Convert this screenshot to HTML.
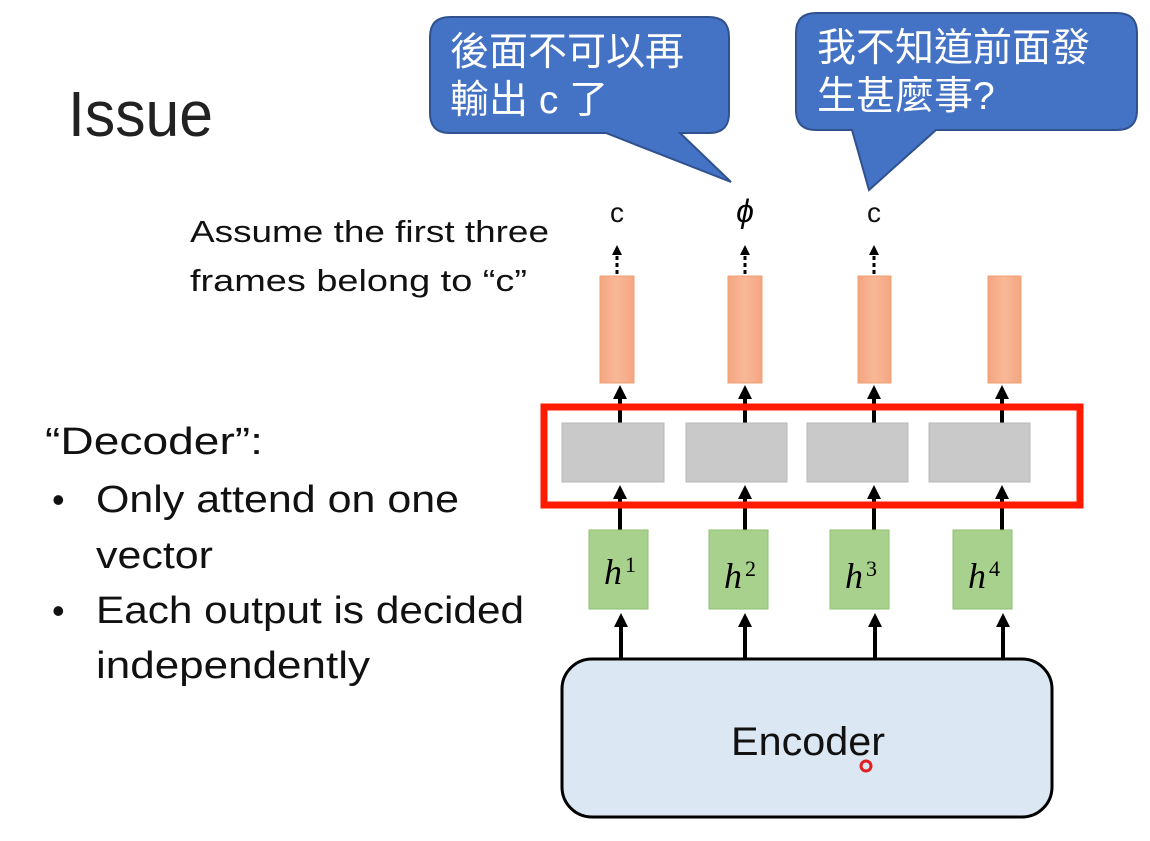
<!DOCTYPE html>
<html><head><meta charset="utf-8"><style>
body{margin:0;background:#fff;}
text{font-family:"Liberation Sans","Noto Sans CJK TC",sans-serif;}
</style></head><body>
<svg width="1150" height="836" xmlns="http://www.w3.org/2000/svg">
<defs>
<marker id="a" markerWidth="14" markerHeight="14" refX="7" refY="7" orient="auto" markerUnits="userSpaceOnUse"><path d="M0,0 L14,7 L0,14 z" fill="#000"/></marker>
<marker id="b" markerWidth="10" markerHeight="10" refX="5" refY="5" orient="auto" markerUnits="userSpaceOnUse"><path d="M0,0 L10,5 L0,10 z" fill="#000"/></marker>
<linearGradient id="og" x1="0" x2="1"><stop offset="0" stop-color="#f4a580"/><stop offset="0.5" stop-color="#f8b898"/><stop offset="1" stop-color="#f4a580"/></linearGradient>
</defs>
<text x="68" y="136" font-size="64" fill="#222" textLength="145" lengthAdjust="spacingAndGlyphs">Issue</text>
<text x="190" y="242" font-size="31" fill="#111" textLength="359" lengthAdjust="spacingAndGlyphs">Assume the first three</text>
<text x="190" y="291" font-size="31" fill="#111" textLength="337" lengthAdjust="spacingAndGlyphs">frames belong to “c”</text>
<text x="45" y="454" font-size="38" fill="#111" textLength="218" lengthAdjust="spacingAndGlyphs">“Decoder”:</text>
<text x="52" y="512" font-size="36" fill="#111">•</text><text x="96" y="512" font-size="38" fill="#111" textLength="363" lengthAdjust="spacingAndGlyphs">Only attend on one</text>
<text x="96" y="568" font-size="38" fill="#111" textLength="117" lengthAdjust="spacingAndGlyphs">vector</text>
<text x="52" y="623" font-size="36" fill="#111">•</text><text x="96" y="623" font-size="38" fill="#111" textLength="428" lengthAdjust="spacingAndGlyphs">Each output is decided</text>
<text x="96" y="678" font-size="38" fill="#111" textLength="274" lengthAdjust="spacingAndGlyphs">independently</text>

<path d="M450,17 H709 Q729,17 729,37 V113 Q729,133 709,133 H680 L731,182 L606,133 H450 Q430,133 430,113 V37 Q430,17 450,17 Z" fill="#4472c4" stroke="#2f528f" stroke-width="2"/>
<text x="450" y="65" font-size="39" fill="#fff">後面不可以再</text>
<text x="450" y="113" font-size="39" fill="#fff">輸出 c 了</text>
<path d="M816,13 H1117 Q1137,13 1137,33 V110 Q1137,130 1117,130 H936 L869,190 L852,130 H816 Q796,130 796,110 V33 Q796,13 816,13 Z" fill="#4472c4" stroke="#2f528f" stroke-width="2"/>
<text x="817" y="61" font-size="39" fill="#fff">我不知道前面發</text>
<text x="817" y="109" font-size="39" fill="#fff">生甚麼事?</text>

<text x="617" y="222" font-size="28" fill="#111" text-anchor="middle">c</text>
<text x="745" y="222" font-family="Liberation Serif,serif" font-style="italic" font-size="32" text-anchor="middle">ϕ</text>
<text x="874" y="222" font-size="28" fill="#111" text-anchor="middle">c</text>

<g stroke="#000" stroke-width="3">
<line x1="617" y1="274" x2="617" y2="250" stroke-dasharray="4,3" marker-end="url(#b)"/>
<line x1="745" y1="274" x2="745" y2="250" stroke-dasharray="4,3" marker-end="url(#b)"/>
<line x1="874" y1="274" x2="874" y2="250" stroke-dasharray="4,3" marker-end="url(#b)"/>
</g>

<g fill="url(#og)" stroke="#f0a070" stroke-width="1">
<rect x="600" y="276" width="34" height="107"/>
<rect x="728" y="276" width="34" height="107"/>
<rect x="858" y="276" width="33" height="107"/>
<rect x="988" y="276" width="33" height="107"/>
</g>

<g stroke="#000" stroke-width="4">
<line x1="620" y1="423" x2="620" y2="392" marker-end="url(#a)"/>
<line x1="745" y1="423" x2="745" y2="392" marker-end="url(#a)"/>
<line x1="874" y1="423" x2="874" y2="392" marker-end="url(#a)"/>
<line x1="1002" y1="423" x2="1002" y2="392" marker-end="url(#a)"/>
<line x1="620" y1="530" x2="620" y2="492" marker-end="url(#a)"/>
<line x1="745" y1="530" x2="745" y2="492" marker-end="url(#a)"/>
<line x1="874" y1="530" x2="874" y2="492" marker-end="url(#a)"/>
<line x1="1002" y1="530" x2="1002" y2="492" marker-end="url(#a)"/>
<line x1="621" y1="658" x2="621" y2="620" marker-end="url(#a)"/>
<line x1="745" y1="658" x2="745" y2="620" marker-end="url(#a)"/>
<line x1="875" y1="658" x2="875" y2="620" marker-end="url(#a)"/>
<line x1="1003" y1="658" x2="1003" y2="620" marker-end="url(#a)"/>
</g>

<g fill="#c9c9c9" stroke="#b8b8b8" stroke-width="1">
<rect x="562" y="423" width="102" height="59"/>
<rect x="686" y="423" width="101" height="59"/>
<rect x="807" y="423" width="101" height="59"/>
<rect x="929" y="423" width="101" height="59"/>
</g>
<rect x="544" y="407" width="536" height="98" fill="none" stroke="#ff1a00" stroke-width="7"/>

<g fill="#a9d18e" stroke="#8fbf70" stroke-width="1">
<rect x="589" y="530" width="59" height="79"/>
<rect x="709" y="530" width="59" height="79"/>
<rect x="830" y="530" width="59" height="79"/>
<rect x="953" y="530" width="59" height="79"/>
</g>
<g font-family="Liberation Serif,serif" font-size="36" fill="#000">
<text x="604" y="584" font-style="italic" style="font-family:'Liberation Serif',serif">h</text><text x="625" y="572" font-size="22" style="font-family:'Liberation Serif',serif">1</text>
<text x="724" y="588" font-style="italic" style="font-family:'Liberation Serif',serif">h</text><text x="745" y="576" font-size="22" style="font-family:'Liberation Serif',serif">2</text>
<text x="845" y="588" font-style="italic" style="font-family:'Liberation Serif',serif">h</text><text x="866" y="576" font-size="22" style="font-family:'Liberation Serif',serif">3</text>
<text x="968" y="588" font-style="italic" style="font-family:'Liberation Serif',serif">h</text><text x="989" y="576" font-size="22" style="font-family:'Liberation Serif',serif">4</text>
</g>

<rect x="562" y="659" width="490" height="158" rx="30" fill="#dbe8f4" stroke="#000" stroke-width="3"/>
<text x="731" y="755" font-size="40" fill="#111" textLength="154" lengthAdjust="spacingAndGlyphs">Encoder</text>
<circle cx="866" cy="766" r="5" fill="none" stroke="#e02020" stroke-width="3"/>
</svg>
</body></html>
